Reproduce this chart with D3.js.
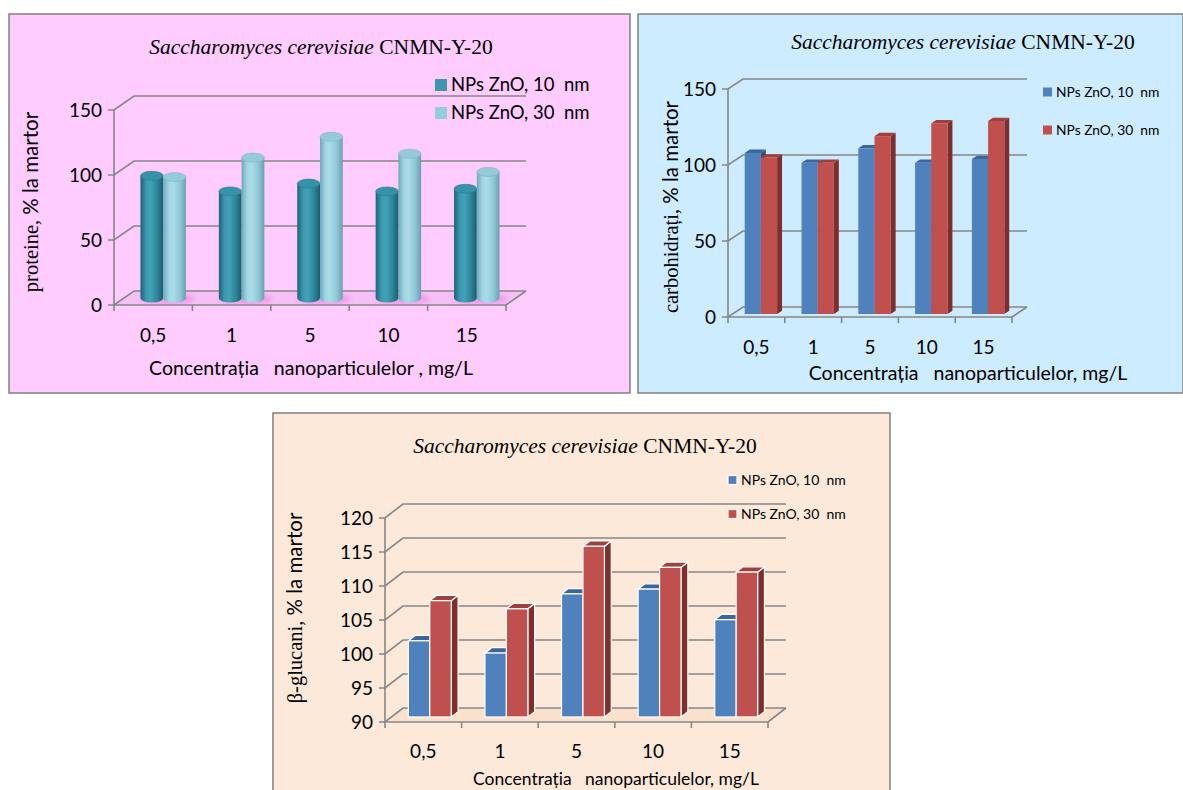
<!DOCTYPE html>
<html>
<head>
<meta charset="utf-8">
<script src="https://cdn.jsdelivr.net/npm/d3@7"></script>
<style>
  html, body { margin: 0; padding: 0; background: #fff; }
  svg { display: block; }
  text { white-space: pre; }
</style>
</head>
<body>
<div id="stage"></div>
<script>
// chart values
const categories = ['0,5', '1', '5', '10', '15'];
const seriesNames = ['NPs ZnO, 10  nm', 'NPs ZnO, 30  nm'];
const protein10 = [94, 82, 88, 82, 84];
const protein30 = [93, 108, 124, 111, 97];
const carb10 = [106, 99.5, 109, 99.5, 102];
const carb30 = [103, 99.5, 117, 125.5, 127];
const gluc10 = [101.2, 99.4, 108.1, 108.8, 104.3];
const gluc30 = [107.1, 105.9, 115.1, 112.0, 111.3];
const ticksA = [0, 50, 100, 150];
const ticksB = [90, 95, 100, 105, 110, 115, 120];

const SERIF = '"Liberation Serif", "Times New Roman", serif';
const SANS = 'Lato, "Open Sans", sans-serif';
const GRID = '#868686';

const W = 1183, H = 790;
const svg = d3.select('#stage').append('svg').attr('width', W).attr('height', H);
const defs = svg.append('defs');

function cylGrad(id, stops) {
  const g = defs.append('linearGradient').attr('id', id).attr('x1', 0).attr('x2', 1).attr('y1', 0).attr('y2', 0);
  stops.forEach(([o, c]) => g.append('stop').attr('offset', o).attr('stop-color', c));
}
cylGrad('cylDark', [['0%', '#1d6374'], ['25%', '#3a98af'], ['45%', '#43a2b8'], ['75%', '#2c8499'], ['100%', '#1b5b6b']]);
cylGrad('cylLight', [['0%', '#6fa8b9'], ['25%', '#a3d6e4'], ['45%', '#aadbe8'], ['75%', '#8ec6d6'], ['100%', '#6a9fb0']]);
defs.append('filter').attr('id', 'soft').append('feGaussianBlur').attr('stdDeviation', 2.5);

function panel(cfg) {
  const g = svg.append('g');
  g.append('rect').attr('x', cfg.box[0]).attr('y', cfg.box[1]).attr('width', cfg.box[2]).attr('height', cfg.box[3])
    .attr('fill', cfg.bg).attr('stroke', '#808080').attr('stroke-width', 1.5);

  const title = g.append('text').attr('x', cfg.title[0]).attr('y', cfg.title[1]).attr('text-anchor', 'middle')
    .attr('font-family', SERIF).attr('font-size', cfg.titleSize).attr('fill', '#000');
  title.append('tspan').attr('font-style', 'italic').text('Saccharomyces cerevisiae');
  title.append('tspan').text(' CNMN-Y-20');

  const x = d3.scaleBand().domain(categories).range([cfg.x0, cfg.x1]);
  const y = d3.scaleLinear().domain(cfg.domain).range([cfg.yBase, cfg.yTop]);
  const { dx, dy } = cfg;
  const y0 = y(cfg.domain[0]);

  // floor
  g.append('path').attr('d', `M${cfg.x0},${y0}L${cfg.x1},${y0}L${cfg.x1 + dx},${y0 + dy}L${cfg.x0 + dx},${y0 + dy}Z`)
    .attr('fill', cfg.floor).attr('stroke', 'none');

  // walls / gridlines
  const grid = g.append('g').attr('fill', 'none').attr('stroke', GRID).attr('stroke-width', 1.6);
  cfg.ticks.forEach(t => {
    const yt = y(t);
    grid.append('path').attr('d', `M${cfg.x0 - 6},${yt}L${cfg.x0},${yt}L${cfg.x0 + dx},${yt + dy}L${cfg.x1 + dx},${yt + dy}`);
  });
  grid.append('path').attr('d', `M${cfg.x0},${y(cfg.domain[1])}L${cfg.x0},${y0}L${cfg.x1},${y0}L${cfg.x1 + dx},${y0 + dy}`);
  categories.concat([null]).forEach(c => {
    const xx = c === null ? cfg.x1 : x(c);
    grid.append('path').attr('d', `M${xx},${y0}L${xx},${y0 + 6}`);
  });

  g.append('g').selectAll('text').data(cfg.ticks).join('text')
    .attr('x', cfg.x0 - 12).attr('y', d => y(d)).attr('dy', '0.35em').attr('text-anchor', 'end')
    .attr('font-family', SANS).attr('font-size', cfg.tickSize).attr('fill', '#000').text(d => d);

  g.append('g').selectAll('text').data(categories).join('text')
    .attr('x', d => x(d) + x.bandwidth() / 2).attr('y', cfg.xLabelY).attr('text-anchor', 'middle')
    .attr('font-family', SANS).attr('font-size', cfg.tickSize).attr('fill', '#000').text(d => d);

  g.append('text').attr('x', cfg.xTitle[0]).attr('y', cfg.xTitle[1]).attr('text-anchor', 'middle')
    .attr('font-family', SANS).attr('font-size', cfg.xTitleSize).attr('fill', '#000').text(cfg.xTitleText);

  const yl = g.append('text').attr('transform', `translate(${cfg.yTitle[0]},${cfg.yTitle[1]}) rotate(-90)`)
    .attr('text-anchor', 'middle').attr('dy', '0.35em').attr('font-size', cfg.yTitleSize).attr('fill', '#000');
  yl.append('tspan').attr('font-family', SERIF).text(cfg.yTitleSerif);
  yl.append('tspan').attr('font-family', SANS).text('% la martor');

  // marks
  const bw = x.bandwidth() * cfg.barFrac;
  const bars = g.append('g');
  categories.forEach((c, i) => {
    cfg.series.forEach((vals, s) => {
      const left = x(c) + x.bandwidth() / 2 - bw + bw * s;
      const v = vals[i];
      if (cfg.kind === 'cyl') {
        const f = 0.5, ry = cfg.ry;
        const cx = left + bw / 2 + dx * f;
        const yb = y0 + dy * f, yt = y(v) + dy * f;
        if (s === 0) {
          bars.append('ellipse').attr('cx', cx + bw / 2 + 4).attr('cy', yb + 1).attr('rx', bw * 1.2).attr('ry', 5)
            .attr('fill', cfg.shadow).attr('filter', 'url(#soft)');
        }
        const r = bw / 2;
        bars.append('path')
          .attr('d', `M${cx - r},${yt}L${cx - r},${yb}A${r},${ry} 0 0 0 ${cx + r},${yb}L${cx + r},${yt}Z`)
          .attr('fill', `url(#${cfg.grads[s]})`);
        bars.append('ellipse').attr('cx', cx).attr('cy', yt).attr('rx', r).attr('ry', ry)
          .attr('fill', cfg.tops[s]).attr('stroke', cfg.topEdge[s]).attr('stroke-width', 0.6);
      } else {
        const f = cfg.barFront, d = cfg.barDepth;
        const xl = left + dx * f, xr = xl + bw;
        const yb = y0 + dy * f, yt = y(v) + dy * f;
        const ox = dx * d, oy = dy * d;
        const col = cfg.colors[s];
        bars.append('path').attr('d', `M${xr},${yt}L${xr + ox},${yt + oy}L${xr + ox},${yb + oy}L${xr},${yb}Z`)
          .attr('fill', col.side).attr('stroke', cfg.edge).attr('stroke-width', cfg.edgeW);
        bars.append('path').attr('d', `M${xl},${yt}L${xr},${yt}L${xr + ox},${yt + oy}L${xl + ox},${yt + oy}Z`)
          .attr('fill', col.top).attr('stroke', cfg.edge).attr('stroke-width', cfg.edgeW);
        bars.append('rect').attr('x', xl).attr('y', yt).attr('width', bw).attr('height', yb - yt)
          .attr('fill', col.front).attr('stroke', cfg.edge).attr('stroke-width', cfg.edgeW);
      }
    });
  });

  // legend
  const lg = g.append('g');
  seriesNames.forEach((n, s) => {
    const ly = cfg.legend[1] + s * cfg.legendGap;
    lg.append('rect').attr('x', cfg.legend[0]).attr('y', ly - cfg.legendSq / 2).attr('width', cfg.legendSq).attr('height', cfg.legendSq)
      .attr('fill', cfg.legendColors[s]).attr('stroke', cfg.edge).attr('stroke-width', cfg.edgeW);
    lg.append('text').attr('x', cfg.legend[0] + cfg.legendSq + 4).attr('y', ly).attr('dy', '0.35em')
      .attr('font-family', SANS).attr('font-size', cfg.legendSize).attr('fill', '#000').text(n);
  });
}

const blue = { front: '#4f81bd', top: '#3b6699', side: '#2f5381' };
const red = { front: '#c0504d', top: '#a13f3c', side: '#7e2f2d' };

panel({
  box: [9, 14, 621, 379], bg: '#ffccff', floor: '#f7c0f5',
  title: [321, 54], titleSize: 21.5,
  x0: 114, x1: 506, yBase: 305, yTop: 110, domain: [0, 150], ticks: ticksA, dx: 20, dy: -14,
  tickSize: 19, xLabelY: 342, xTitle: [311, 375], xTitleSize: 19.5,
  xTitleText: 'Concentrația   nanoparticulelor , mg/L',
  yTitle: [31, 202], yTitleSize: 20.5, yTitleSerif: 'proteine, ',
  kind: 'cyl', series: [protein10, protein30], barFrac: 0.29, ry: 4.5,
  grads: ['cylDark', 'cylLight'], tops: ['#3592a9', '#95cbd9'], topEdge: ['#2a7a8d', '#7fb3c2'],
  shadow: 'rgba(225,120,220,0.55)',
  legend: [435, 85], legendGap: 28, legendSq: 12, legendSize: 18.5,
  legendColors: ['#3e98ad', '#93cddd'], edge: 'none', edgeW: 0
});

panel({
  box: [638, 14, 545, 379], bg: '#cdecff', floor: 'none',
  title: [963, 49], titleSize: 21.5,
  x0: 728, x1: 1012, yBase: 317, yTop: 89, domain: [0, 150], ticks: ticksA, dx: 15, dy: -10,
  tickSize: 19, xLabelY: 354, xTitle: [968, 380], xTitleSize: 19.5,
  xTitleText: 'Concentrația   nanoparticulelor, mg/L',
  yTitle: [671, 207], yTitleSize: 20.5, yTitleSerif: 'carbohidrați, ',
  kind: 'box', series: [carb10, carb30], barFrac: 0.285, barFront: 0.3, barDepth: 0.33,
  colors: [blue, red],
  legend: [1043, 92], legendGap: 38, legendSq: 9, legendSize: 13.8,
  legendColors: ['#4f81bd', '#c0504d'], edge: 'none', edgeW: 0
});

panel({
  box: [273, 413, 617, 390], bg: '#fde9d9', floor: '#fbe0cc',
  title: [585, 453], titleSize: 21.5,
  x0: 385, x1: 768, yBase: 722, yTop: 518, domain: [90, 120], ticks: ticksB, dx: 18, dy: -14,
  tickSize: 19, xLabelY: 758, xTitle: [616, 785], xTitleSize: 17.5,
  xTitleText: 'Concentrația   nanoparticulelor, mg/L',
  yTitle: [295, 608], yTitleSize: 20.5, yTitleSerif: 'β-glucani, ',
  kind: 'box', series: [gluc10, gluc30], barFrac: 0.28, barFront: 0.36, barDepth: 0.38,
  colors: [blue, red],
  legend: [728, 480], legendGap: 34, legendSq: 9, legendSize: 14,
  legendColors: ['#4f81bd', '#c0504d'], edge: '#fff', edgeW: 1.2
});
</script>
</body>
</html>
